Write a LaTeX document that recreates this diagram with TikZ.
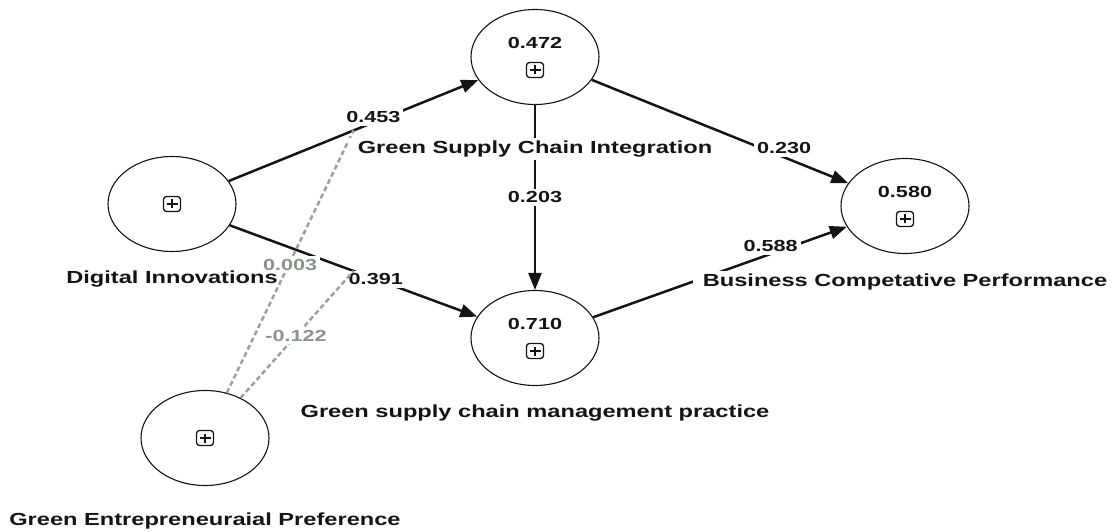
\documentclass[tikz,border=0pt]{standalone}
\usepackage{fontspec}
\setmainfont[FakeStretch=1.35]{Liberation Sans}
\usetikzlibrary{positioning,arrows.meta,shapes.geometric}
\definecolor{ink}{RGB}{20,20,20}
\definecolor{modgray}{RGB}{160,160,160}
\definecolor{modtext}{RGB}{135,150,135}

\begin{document}
\begin{tikzpicture}[x=1pt,y=-1pt,
  lv/.style={ellipse,draw=ink,line width=1.1pt,minimum width=128pt,minimum height=95pt,inner sep=0pt},
  lvval/.style={font=\fontsize{16}{18}\selectfont\bfseries,text=ink,inner sep=1pt},
  plusbox/.style={rectangle,rounded corners=3pt,draw=ink,line width=1.3pt,minimum width=17pt,minimum height=15pt,inner sep=0pt,
    path picture={\draw[line width=1.3pt] ([yshift=-3pt]path picture bounding box.north) -- ([yshift=3pt]path picture bounding box.south)
      ([xshift=3pt]path picture bounding box.west) -- ([xshift=-3pt]path picture bounding box.east);}},
  lvname/.style={fill=white,font=\fontsize{17.5}{20}\selectfont\bfseries,text=ink,inner xsep=10pt,inner ysep=3pt,text height=12.5pt,text depth=3.5pt},
  coef/.style={fill=white,font=\fontsize{16}{18}\selectfont\bfseries,text=ink,inner sep=3pt},
  modcoef/.style={coef,text=modtext},
  arr/.style={-{Triangle[length=17pt,width=13pt]},line width=2.5pt,draw=ink},
  modarr/.style={line width=2.5pt,draw=modgray,dash pattern=on 5pt off 3pt}
]
\useasboundingbox (0,0) rectangle (1112,532);
\node[lv] (di) at (172,204) {};
\node[lv] (gsci) at (535,57) {};
\node[lv] (gscmp) at (535,338) {};
\node[lv] (bcp) at (905,206) {};
\node[lv] (gep) at (205,438) {};
\node[plusbox] (di-plus) at (di.center) {};
\node[lvval] (gsci-val) at ([yshift=14pt]gsci.center) {0.472};
\node[plusbox] (gsci-plus) at ([yshift=-13pt]gsci.center) {};
\node[lvval] (gscmp-val) at ([yshift=14pt]gscmp.center) {0.710};
\node[plusbox] (gscmp-plus) at ([yshift=-13pt]gscmp.center) {};
\node[lvval] (bcp-val) at ([yshift=14pt]bcp.center) {0.580};
\node[plusbox] (bcp-plus) at ([yshift=-13pt]bcp.center) {};
\node[plusbox] (gep-plus) at (gep.center) {};
\draw[arr] (di) -- coordinate[pos=0.5] (m1) node[coef,pos=0.58,yshift=5pt] (c1) {0.453} (gsci);
\draw[arr] (di) -- coordinate[pos=0.5] (m2) node[coef,pos=0.59] (c2) {0.391} (gscmp);
\draw[arr] (gsci) -- node[coef,pos=0.75,yshift=9pt] (c3) {0.230} (bcp);
\draw[arr] (gsci) -- node[coef,pos=0.5] (c4) {0.203} (gscmp);
\draw[arr] (gscmp) -- node[coef,pos=0.7,yshift=8pt] (c5) {0.588} (bcp);
\node[lvname,below=15.5pt of di] (di-name) {Digital Innovations};
\draw[modarr] (gep) -- node[modcoef,pos=0.5,yshift=-3pt] (c6) {0.003} (m1);
\draw[modarr] (gep) -- node[modcoef,pos=0.49] (c7) {-0.122} (m2);
\node[lvname,below=32.5pt of gsci] (gsci-name) {Green Supply Chain Integration};
\node[lvname,below=15.5pt of gscmp] (gscmp-name) {Green supply chain management practice};
\node[lvname,below=16.5pt of bcp] (bcp-name) {Business Competative Performance};
\node[lvname,below=23.5pt of gep] (gep-name) {Green Entrepreneuraial Preference};
\end{tikzpicture}
\end{document}
